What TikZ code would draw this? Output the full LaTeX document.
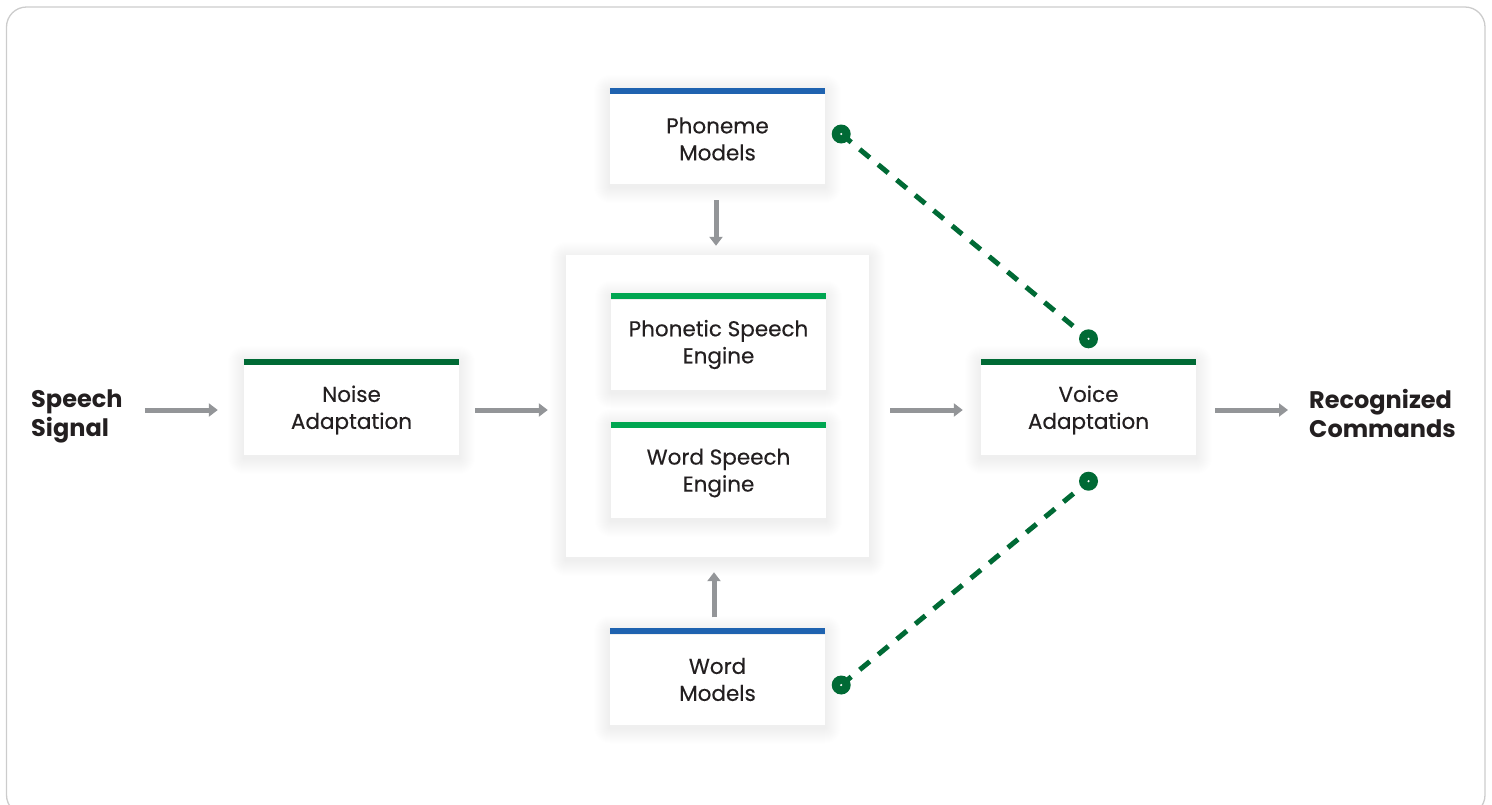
\documentclass[tikz,border=0pt]{standalone}
\usepackage{fontspec}
\setmainfont{Poppins}
\newfontfamily\cardfont{Poppins}[FakeBold=0.35]
\usetikzlibrary{arrows.meta}
\definecolor{txt}{HTML}{231F20}
\definecolor{barblue}{HTML}{1F63B0}
\definecolor{bardkgreen}{HTML}{006A35}
\definecolor{barltgreen}{HTML}{00A651}
\definecolor{arrgray}{HTML}{939598}
\definecolor{dotgreen}{HTML}{006A35}
\definecolor{framegray}{HTML}{CCCCCC}
\newcommand\softshade[4]{% cx cy w h
  \foreach \k in {1,...,16}{
    \fill[black, fill opacity=0.005, rounded corners=\k pt]
      ({#1-#3/2-\k},{#2-#4/2-\k+3}) rectangle ({#1+#3/2+\k},{#2+#4/2+\k+3});
  }%
}
\tikzset{
  x=1pt,y=-1pt,
  card/.style={fill=white, minimum width=215pt, minimum height=90pt, inner sep=0pt,
    align=center, font=\cardfont\fontsize{21.5}{27}\selectfont, text=txt},
  container/.style={fill=white, minimum width=303pt, minimum height=302pt, inner sep=0pt},
  bigtext/.style={font=\bfseries\fontsize{24}{29}\selectfont, text=txt, align=left, anchor=west, inner sep=0pt},
  arr/.style={draw=arrgray, line width=5pt, -{Triangle[length=9pt,width=13pt]}},
  topbar/.style={line width=6pt},
  link/.style={draw=dotgreen, line width=5pt, dash pattern=on 13pt off 11pt},
  dot/.style={circle, fill=dotgreen, minimum size=19pt, inner sep=0pt},
  dotcore/.style={circle, fill=white, minimum size=2.4pt, inner sep=0pt},
}
\begin{document}
\begin{tikzpicture}
\useasboundingbox (0,0) rectangle (1492,804);
\begin{scope}
\clip (0,0) rectangle (1492,804);
\draw[framegray, line width=1.3pt, rounded corners=20pt] (6.5,7) rectangle (1485,815);
\end{scope}

% shadows of outer boxes
\softshade{717.5}{406}{303}{302}
\softshade{717.5}{136}{215}{96}
\softshade{717.5}{676.5}{215}{96}
\softshade{351.5}{407}{215}{96}
\softshade{1088.5}{407}{215}{96}

% container
\node[container] (cont) at (717.5,406) {};

% inner shadows
\softshade{718.5}{341.5}{215}{96}
\softshade{718.5}{470}{215}{96}

% cards
\node[card] (phon) at (717.5,139) {Phoneme\\Models};
\node[card] (pse) at (718.5,344.5) {Phonetic Speech\\Engine};
\node[card] (wse) at (718.5,473) {Word Speech\\Engine};
\node[card] (wm) at (717.5,679.5) {Word\\Models};
\node[card] (noise) at (351.5,410) {Noise\\Adaptation};
\node[card] (voice) at (1088.5,410) {Voice\\Adaptation};

% top bars
\draw[topbar, barblue] ([yshift=3pt]phon.north west) -- ([yshift=3pt]phon.north east);
\draw[topbar, barltgreen] ([yshift=3pt]pse.north west) -- ([yshift=3pt]pse.north east);
\draw[topbar, barltgreen] ([yshift=3pt]wse.north west) -- ([yshift=3pt]wse.north east);
\draw[topbar, barblue] ([yshift=3pt]wm.north west) -- ([yshift=3pt]wm.north east);
\draw[topbar, bardkgreen] ([yshift=3pt]noise.north west) -- ([yshift=3pt]noise.north east);
\draw[topbar, bardkgreen] ([yshift=3pt]voice.north west) -- ([yshift=3pt]voice.north east);

% end labels
\node[bigtext] (speech) at (31,416) {Speech\\Signal};
\node[bigtext] (recog) at (1309,413) {Recognized\\Commands};

% arrows
\draw[arr] ([xshift=-99pt]noise.west) -- ([xshift=-26pt]noise.west);
\draw[arr] ([xshift=16pt]noise.east) -- ([xshift=-18pt]cont.west |- noise.east);
\draw[arr] ([xshift=21pt]cont.east |- voice.west) -- ([xshift=-18pt]voice.west);
\draw[arr] ([xshift=19pt]voice.east) -- ([xshift=-21pt]recog.west |- voice.east);
\draw[arr] ([xshift=-1.5pt,yshift=-16pt]phon.south) -- ([xshift=-1.5pt,yshift=9pt]cont.north);
\draw[arr] ([xshift=-3.5pt,yshift=17pt]wm.north) -- ([xshift=-3.5pt,yshift=-15pt]cont.south);

% dashed links
\coordinate (d1) at ([xshift=16pt,yshift=5pt]phon.east);
\coordinate (d2) at ([yshift=26pt]voice.north);
\coordinate (d3) at ([yshift=-26pt]voice.south);
\coordinate (d4) at ([xshift=16pt,yshift=-5.5pt]wm.east);
\draw[link] (d1) -- (d2);
\draw[link] (d4) -- (d3);
\foreach \d in {d1,d2,d3,d4}{
  \node[dot] (\d dot) at (\d) {};
  \node[dotcore] (\d core) at (\d) {};
}
\end{tikzpicture}
\end{document}
